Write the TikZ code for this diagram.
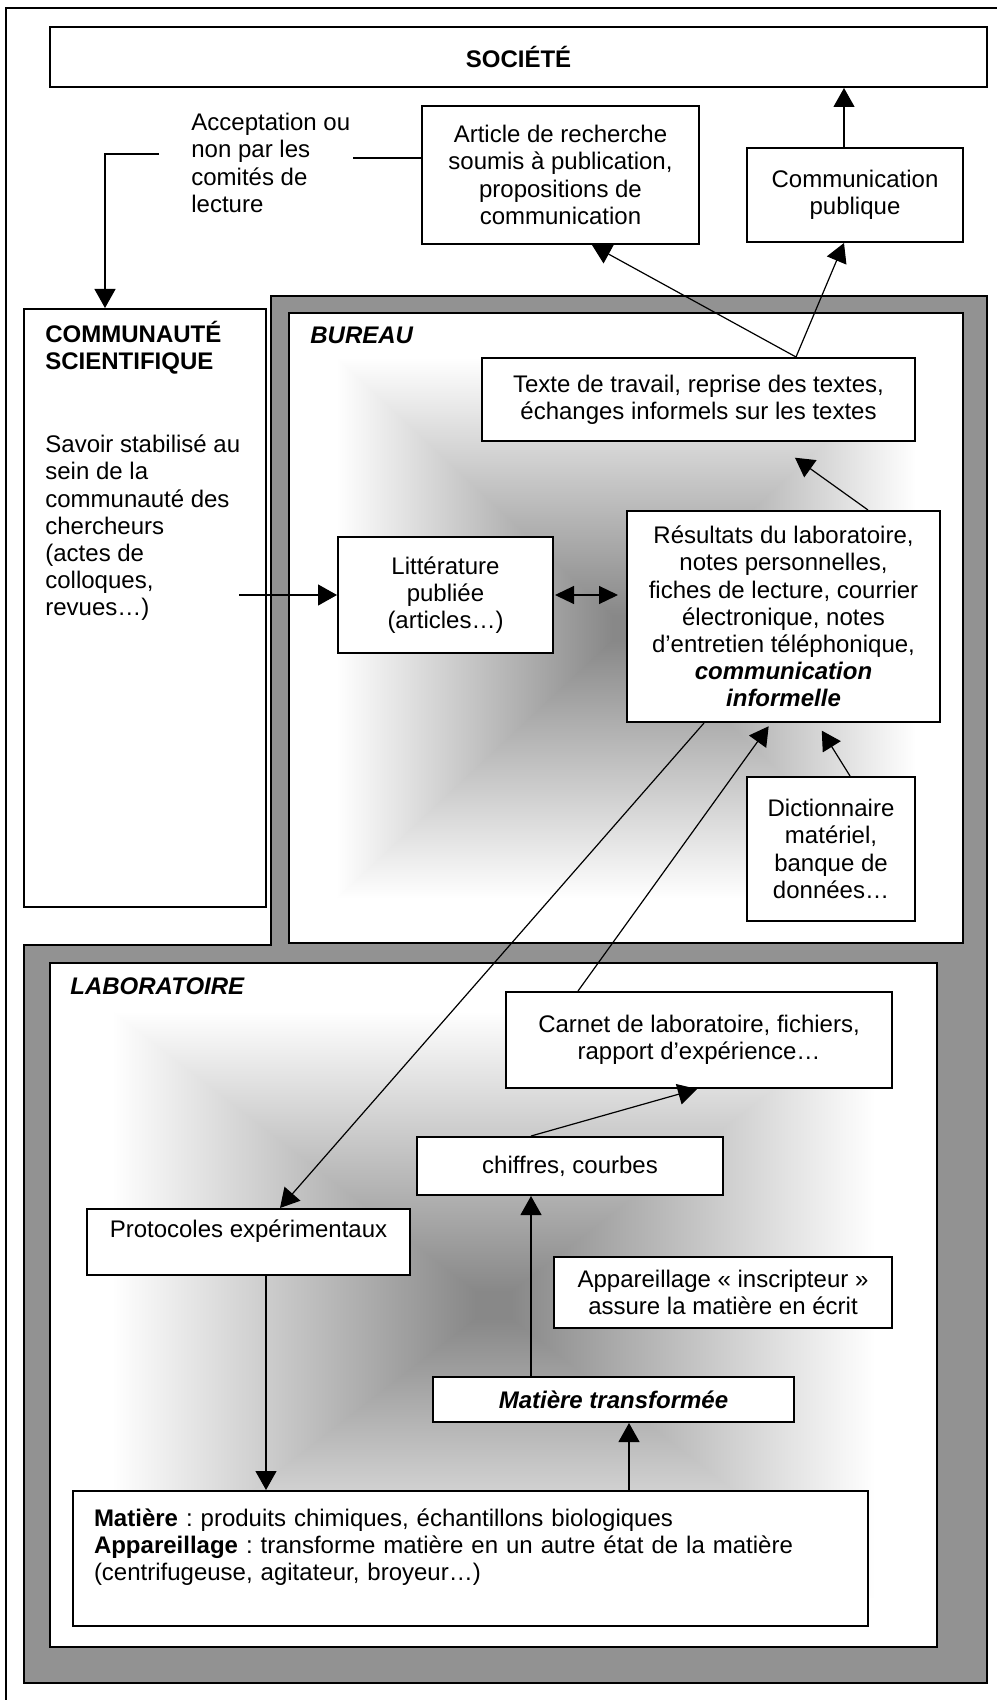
\documentclass[tikz,border=0pt]{standalone}
\usepackage{fontspec}
\setmainfont{Liberation Sans}
\usetikzlibrary{arrows.meta, positioning, calc}
\frenchspacing

\definecolor{framegray}{RGB}{146,146,146}
\definecolor{shadegray}{RGB}{136,136,136}

% degrade rectangulaire (du centre vers les bords)
\pgfdeclareverticalshading{gradtop}{100bp}{color(0bp)=(shadegray); color(27bp)=(shadegray); color(68bp)=(white); color(100bp)=(white)}
\pgfdeclareverticalshading{gradbot}{100bp}{color(0bp)=(white); color(32bp)=(white); color(73bp)=(shadegray); color(100bp)=(shadegray)}
\pgfdeclarehorizontalshading{gradleft}{100bp}{color(0bp)=(white); color(32bp)=(white); color(73bp)=(shadegray); color(100bp)=(shadegray)}
\pgfdeclarehorizontalshading{gradright}{100bp}{color(0bp)=(shadegray); color(27bp)=(shadegray); color(68bp)=(white); color(100bp)=(white)}

\newcommand{\gradbox}[4]{%
  \coordinate (gc) at ({(#1+#3)/2},{(#2+#4)/2});
  \shade[shading=gradleft]  (#1,#2) rectangle (gc |- #1,#4);
  \shade[shading=gradright] (#3,#2) rectangle (gc |- #3,#4);
  \shade[shading=gradtop]   (#1,#2) -- (#3,#2) -- (gc) -- cycle;
  \shade[shading=gradbot]   (#1,#4) -- (#3,#4) -- (gc) -- cycle;
  \draw[line width=1pt] (#1,#2) rectangle (#3,#4);}

\begin{document}
\begin{tikzpicture}
  [x=0.5pt, y=-0.5pt,
    font=\fontsize{12}{13.6}\selectfont,
    box/.style={
        rectangle,
        draw=black,
        line width=1pt,
        fill=white,
        align=center,
        inner sep=0pt,
      },
    txt/.style={align=left, inner sep=0pt, anchor=west},
    arr/.style={-{Triangle[length=9.5pt, width=10.5pt]}, line width=0.6pt},
    arrboth/.style={{Triangle[length=9.5pt, width=9pt]}-{Triangle[length=9.5pt, width=9pt]}, line width=0.6pt},
  ]
  \useasboundingbox (0,0) rectangle (996,1700);
  \fill[white] (0,0) rectangle (996,1700);
  \draw[line width=1pt] (6,8) rectangle (1004,1710);

  % zones bureau / laboratoire
  \draw[line width=1pt, fill=framegray] (271,296) -- (987,296) -- (987,1683) -- (24,1683) -- (24,945) -- (271,945) -- cycle;
  \gradbox{289}{313}{963}{943}
  \gradbox{50}{963}{937}{1647}

  \node[box, minimum width=468.5pt, minimum height=30pt] (societe) at (518.5,57) {\textbf{SOCIÉTÉ}};
  \node[box, minimum width=138.5pt, minimum height=69pt] (article) at (560.5,175) {Article de recherche\\soumis à publication,\\propositions de\\communication};
  \node[box, minimum width=108pt, minimum height=47pt] (commpub) at (855,195) {Communication\\publique};
  \node[txt] (accept) at (191,163) {Acceptation ou\\non par les\\comités de\\lecture};

  \node[box, minimum width=121pt, minimum height=299pt] (communaute) at (145,608) {};
  \node[txt] (commtitle) at (45,348) {\textbf{COMMUNAUTÉ}\\\textbf{SCIENTIFIQUE}};
  \node[txt] (commtext) at (45,528) {Savoir stabilisé au\\sein de la\\communauté des\\chercheurs\\(actes de\\colloques,\\revues…)};

  \node[txt] (bureaulbl) at (310,335) {\textbf{\textit{BUREAU}}};
  \node[box, minimum width=216.5pt, minimum height=41.5pt] (texte) at (698.5,399.5) {Texte de travail, reprise des textes,\\échanges informels sur les textes};
  \node[box, minimum width=156.5pt, minimum height=105.5pt] (resultats) at (783.5,616.5) {Résultats du laboratoire,\\notes personnelles,\\fiches de lecture, courrier\\électronique, notes\\d’entretien téléphonique,\\\textbf{\textit{communication}}\\\textbf{\textit{informelle}}};
  \node[box, minimum width=107.5pt, minimum height=58pt] (litterature) at (445.5,595) {Littérature\\publiée\\(articles…)};
  \node[box, minimum width=84pt, minimum height=72pt] (dictionnaire) at (831,849) {Dictionnaire\\matériel,\\banque de\\données…};

  \node[txt] (labolbl) at (70,986) {\textbf{\textit{LABORATOIRE}}};
  \node[box, minimum width=193pt, minimum height=48pt] (carnet) at (699,1040) {Carnet de laboratoire, fichiers,\\rapport d’expérience…};
  \node[box, minimum width=153pt, minimum height=29pt] (chiffres) at (570,1166) {chiffres, courbes};
  \node[box, minimum width=161.5pt, minimum height=33pt] (protocoles) at (248.5,1242) {Protocoles expérimentaux\\\mbox{}};
  \node[box, minimum width=169pt, minimum height=35.5pt] (inscripteur) at (723,1292.5) {Appareillage «~inscripteur~»\\assure la matière en écrit};
  \node[box, minimum width=180.5pt, minimum height=22.5pt] (transformee) at (613.5,1399.5) {\textbf{\textit{Matière transformée}}};
  \node[box, minimum width=397.5pt, minimum height=67.5pt, text width=376.5pt, align=left] (matiere) at (470.5,1558.5) {\textbf{Matière} : produits chimiques, échantillons biologiques\\\textbf{Appareillage} : transforme matière en un autre état de la matière\\(centrifugeuse, agitateur, broyeur…)\\\mbox{}};

  % liaisons du haut
  \draw[arr] (commpub.north -| 844,0) -- (societe.south -| 844,0);
  \coordinate (accR) at (353,158);
  \coordinate (accL) at (159,154);
  \coordinate (accbend) at (105,154);
  \draw[line width=0.6pt] (article.west |- accR) -- (accR);
  \draw[arr] (accL) -- (accbend) -- (accbend |- communaute.north);
  \coordinate (textetop) at (texte.north -| 796,0);
  \draw[arr] (textetop) -- (article.south -| 592,0);
  \draw[arr] (textetop) -- (commpub.south -| 844,0);

  % bureau
  \draw[arr, shorten >=13.5pt] (resultats.north -| 868,0) -- (texte.south -| 773,0);
  \draw[arr] (litterature.west -| 239,0) -- (litterature.west);
  \draw[arrboth, shorten <=0.5pt, shorten >=4pt] (litterature.east) -- (litterature.east -| resultats.west);
  \draw[arr, shorten >=4.5pt] (dictionnaire.north -| 850,0) -- (resultats.south -| 817,0);

  % laboratoire
  \draw[arr] (resultats.south -| 704,0) -- (protocoles.north -| 280,0);
  \draw[arr, shorten >=2pt] (carnet.north -| 578,0) -- (resultats.south -| 771,0);
  \draw[arr] (chiffres.north -| 531,0) -- (carnet.south -| 697,0);
  \draw[arr] (transformee.north -| 531,0) -- (chiffres.south -| 531,0);
  \draw[arr] (protocoles.south -| 266,0) -- (matiere.north -| 266,0);
  \draw[arr] (matiere.north -| 629,0) -- (transformee.south -| 629,0);
\end{tikzpicture}
\end{document}
